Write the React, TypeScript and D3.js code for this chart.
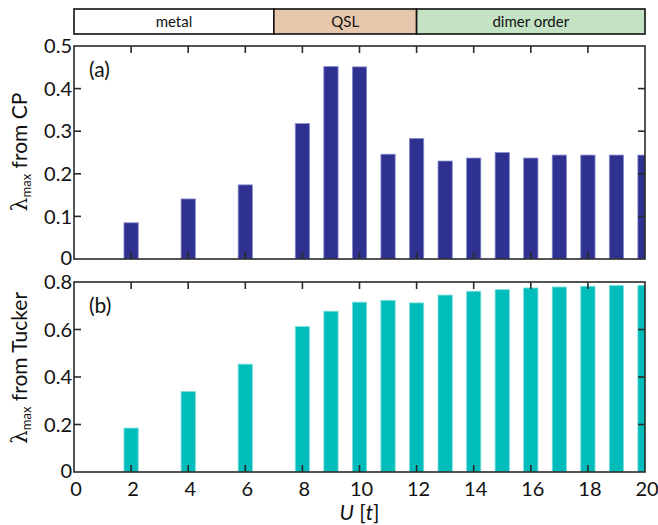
import React from 'react';
import * as d3 from 'd3';

// Interaction strengths U (in units of t) for which λ_max was computed
const uValues = [2, 4, 6, 8, 9, 10, 11, 12, 13, 14, 15, 16, 17, 18, 19, 20];
// λ_max from the CP decomposition
const cpValues = [0.085, 0.141, 0.174, 0.318, 0.452, 0.451, 0.246, 0.283, 0.23, 0.237, 0.25, 0.237, 0.244, 0.244, 0.244, 0.244];
// λ_max from the Tucker decomposition
const tuckerValues = [0.185, 0.339, 0.454, 0.612, 0.677, 0.715, 0.723, 0.712, 0.745, 0.761, 0.768, 0.775, 0.779, 0.782, 0.785, 0.786];

const xTicks = [0, 2, 4, 6, 8, 10, 12, 14, 16, 18, 20];
const cpTicks = [0, 0.1, 0.2, 0.3, 0.4, 0.5];
const tuckerTicks = [0, 0.2, 0.4, 0.6, 0.8];

// Phase diagram strip
const phaseLabels = ['metal', 'QSL', 'dimer order'];
const phaseEdges = [0, 7, 12, 20];
const phaseFills = ['#ffffff', '#e6c9ad', '#c4e3c4'];

const W = 658;
const H = 525;
const left = 74;
const right = 645;
const FONT = 'Lato, "Open Sans", sans-serif';
const frameColor = '#2a2a2a';
const barWidthU = 0.5;
const tickFont = 20;

const x = d3.scaleLinear().domain([0, 20]).range([left, right]);

interface PanelProps {
  id: string;
  top: number;
  bottom: number;
  values: number[];
  yTicks: number[];
  yMax: number;
  fill: string;
  edge: string;
  tag: string;
  labelTail: string;
  labelY: number;
  showXLabels: boolean;
}

function Panel(p: PanelProps) {
  const y = d3.scaleLinear().domain([0, p.yMax]).range([p.bottom, p.top]);
  const bw = x(barWidthU) - x(0);
  const tickLen = 7;
  const innerX = xTicks.filter((t) => t > 0 && t < 20);
  const innerY = p.yTicks.filter((t) => t > 0 && t < p.yMax);
  return (
    <g>
      <defs>
        <clipPath id={p.id}>
          <rect x={left} y={p.top} width={right - left} height={p.bottom - p.top} />
        </clipPath>
      </defs>
      <g clipPath={`url(#${p.id})`}>
        {uValues.map((u, i) => (
          <rect
            key={u}
            x={x(u) - bw / 2}
            y={y(p.values[i])}
            width={bw}
            height={y(0) - y(p.values[i])}
            fill={p.fill}
            stroke={p.edge}
            strokeWidth={0.8}
          />
        ))}
      </g>
      {/* inward ticks on all four sides */}
      {innerX.map((t) => (
        <g key={'x' + t} stroke={frameColor} strokeWidth={1.6}>
          <line x1={x(t)} x2={x(t)} y1={p.bottom} y2={p.bottom - tickLen} />
          <line x1={x(t)} x2={x(t)} y1={p.top} y2={p.top + tickLen} />
        </g>
      ))}
      {innerY.map((t) => (
        <g key={'y' + t} stroke={frameColor} strokeWidth={1.6}>
          <line x1={left} x2={left + tickLen} y1={y(t)} y2={y(t)} />
          <line x1={right} x2={right - tickLen} y1={y(t)} y2={y(t)} />
        </g>
      ))}
      <rect
        x={left}
        y={p.top}
        width={right - left}
        height={p.bottom - p.top}
        fill="none"
        stroke={frameColor}
        strokeWidth={1.6}
      />
      {p.yTicks.map((t) => (
        <text
          key={'yl' + t}
          x={left - 2}
          y={y(t)}
          dy={t === 0 ? '0.3em' : '0.36em'}
          textAnchor="end"
          fontSize={tickFont}
          fontFamily={FONT}
          fill="#111"
        >
          {t === 0 ? '0' : d3.format('.1f')(t)}
        </text>
      ))}
      {p.showXLabels &&
        xTicks.map((t) => (
          <text
            key={'xl' + t}
            x={x(t) + 2}
            y={p.bottom + 24}
            textAnchor="middle"
            fontSize={tickFont}
            fontFamily={FONT}
            fill="#111"
          >
            {t}
          </text>
        ))}
      <text x={89} y={p.top + 31} fontSize={21} fontFamily={FONT} fill="#111">
        {p.tag}
      </text>
      <g transform={`translate(27,${p.labelY}) rotate(-90)`}>
        <text textAnchor="middle" fontSize={21} fontFamily={FONT} fill="#111">
          <tspan fontFamily='"DejaVu Serif", serif' fontSize={22}>λ</tspan>
          <tspan fontSize={13} dy={4}>max</tspan>
          <tspan dy={-4}>{' from ' + p.labelTail}</tspan>
        </text>
      </g>
    </g>
  );
}

export default function App() {
  const bandTop = 9;
  const bandBottom = 34;
  return (
    <svg
      width={W}
      height={H}
      style={{ position: 'absolute', left: 0, top: 0, background: '#fff' }}
    >
      {phaseLabels.map((label, i) => (
        <g key={label}>
          <rect
            x={x(phaseEdges[i])}
            y={bandTop}
            width={x(phaseEdges[i + 1]) - x(phaseEdges[i])}
            height={bandBottom - bandTop}
            fill={phaseFills[i]}
            stroke="#111"
            strokeWidth={1.6}
          />
          <text
            x={(x(phaseEdges[i]) + x(phaseEdges[i + 1])) / 2}
            y={(bandTop + bandBottom) / 2}
            dy="0.35em"
            textAnchor="middle"
            fontSize={15}
            fontFamily={FONT}
            fill="#111"
          >
            {label}
          </text>
        </g>
      ))}
      <Panel
        id="clip-cp"
        top={46}
        bottom={259}
        values={cpValues}
        yTicks={cpTicks}
        yMax={0.5}
        fill="#2e3190"
        edge="#8c8fd0"
        tag="(a)"
        labelTail="CP"
        labelY={152}
        showXLabels={false}
      />
      <Panel
        id="clip-tucker"
        top={282}
        bottom={472}
        values={tuckerValues}
        yTicks={tuckerTicks}
        yMax={0.8}
        fill="#00bdbb"
        edge="#7fe0de"
        tag="(b)"
        labelTail="Tucker"
        labelY={368}
        showXLabels={true}
      />
      <text x={x(10)} y={520} textAnchor="middle" fontSize={21} fontFamily={FONT} fill="#111">
        <tspan fontStyle="italic">U</tspan>
        <tspan> [</tspan>
        <tspan fontStyle="italic">t</tspan>
        <tspan>]</tspan>
      </text>
    </svg>
  );
}
